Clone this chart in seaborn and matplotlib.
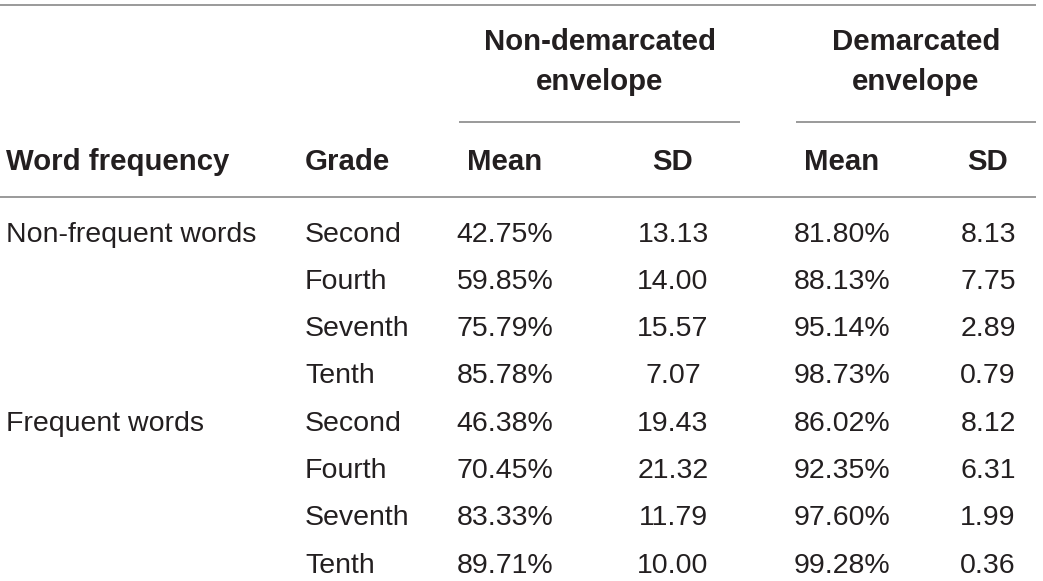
import matplotlib
matplotlib.use("Agg")
import matplotlib.pyplot as plt
import seaborn as sns

# ---- data ----
word_freq = ["Non-frequent words", "", "", "", "Frequent words", "", "", ""]
grades = ["Second", "Fourth", "Seventh", "Tenth", "Second", "Fourth", "Seventh", "Tenth"]
nondem_mean = ["42.75%", "59.85%", "75.79%", "85.78%", "46.38%", "70.45%", "83.33%", "89.71%"]
nondem_sd = ["13.13", "14.00", "15.57", "7.07", "19.43", "21.32", "11.79", "10.00"]
dem_mean = ["81.80%", "88.13%", "95.14%", "98.73%", "86.02%", "92.35%", "97.60%", "99.28%"]
dem_sd = ["8.13", "7.75", "2.89", "0.79", "8.12", "6.31", "1.99", "0.36"]
group_headers = ["Non-demarcated\nenvelope", "Demarcated\nenvelope"]
col_headers = ["Word frequency", "Grade", "Mean", "SD", "Mean", "SD"]

sns.set_theme(style="white")
plt.rcParams['font.family'] = ['Liberation Sans', 'DejaVu Sans']

W, H = 1043, 581
fig = plt.figure(figsize=(W / 100, H / 100), dpi=100)
ax = fig.add_axes([0, 0, 1, 1])
ax.set_xlim(0, W)
ax.set_ylim(H, 0)
ax.axis("off")

txt = "#231f20"
line_c = "#9a9a9a"
fs = 20.5
fsb = 21.2

# rules
ax.hlines(5, 0, 1036, color=line_c, lw=1.4)
ax.hlines(122, 459, 740, color=line_c, lw=1.4)
ax.hlines(122, 796, 1036, color=line_c, lw=1.4)
ax.hlines(197, 0, 1036, color=line_c, lw=1.4)

# group headers
ax.text(600, 62, group_headers[0], ha="center", va="center", fontsize=fsb,
        fontweight="bold", color=txt, linespacing=1.5)
ax.text(916, 62, group_headers[1], ha="center", va="center", fontsize=fsb,
        fontweight="bold", color=txt, linespacing=1.5)

# column headers
hy = 162
col_x = [6, 305, 505, 673, 842, 988]
col_ha = ["left", "left", "center", "center", "center", "center"]
for label, x, ha in zip(col_headers, col_x, col_ha):
    ax.text(x, hy, label, ha=ha, va="center", fontsize=fsb, fontweight="bold", color=txt)

# body rows
row_y0 = 234.5
row_dy = 47.3
cols = [word_freq, grades, nondem_mean, nondem_sd, dem_mean, dem_sd]
for i in range(len(grades)):
    y = row_y0 + i * row_dy
    for col, x, ha in zip(cols, col_x, col_ha):
        ax.text(x, y, col[i], ha=ha, va="center", fontsize=fs, color=txt)

fig.savefig("out.png", dpi=100)
